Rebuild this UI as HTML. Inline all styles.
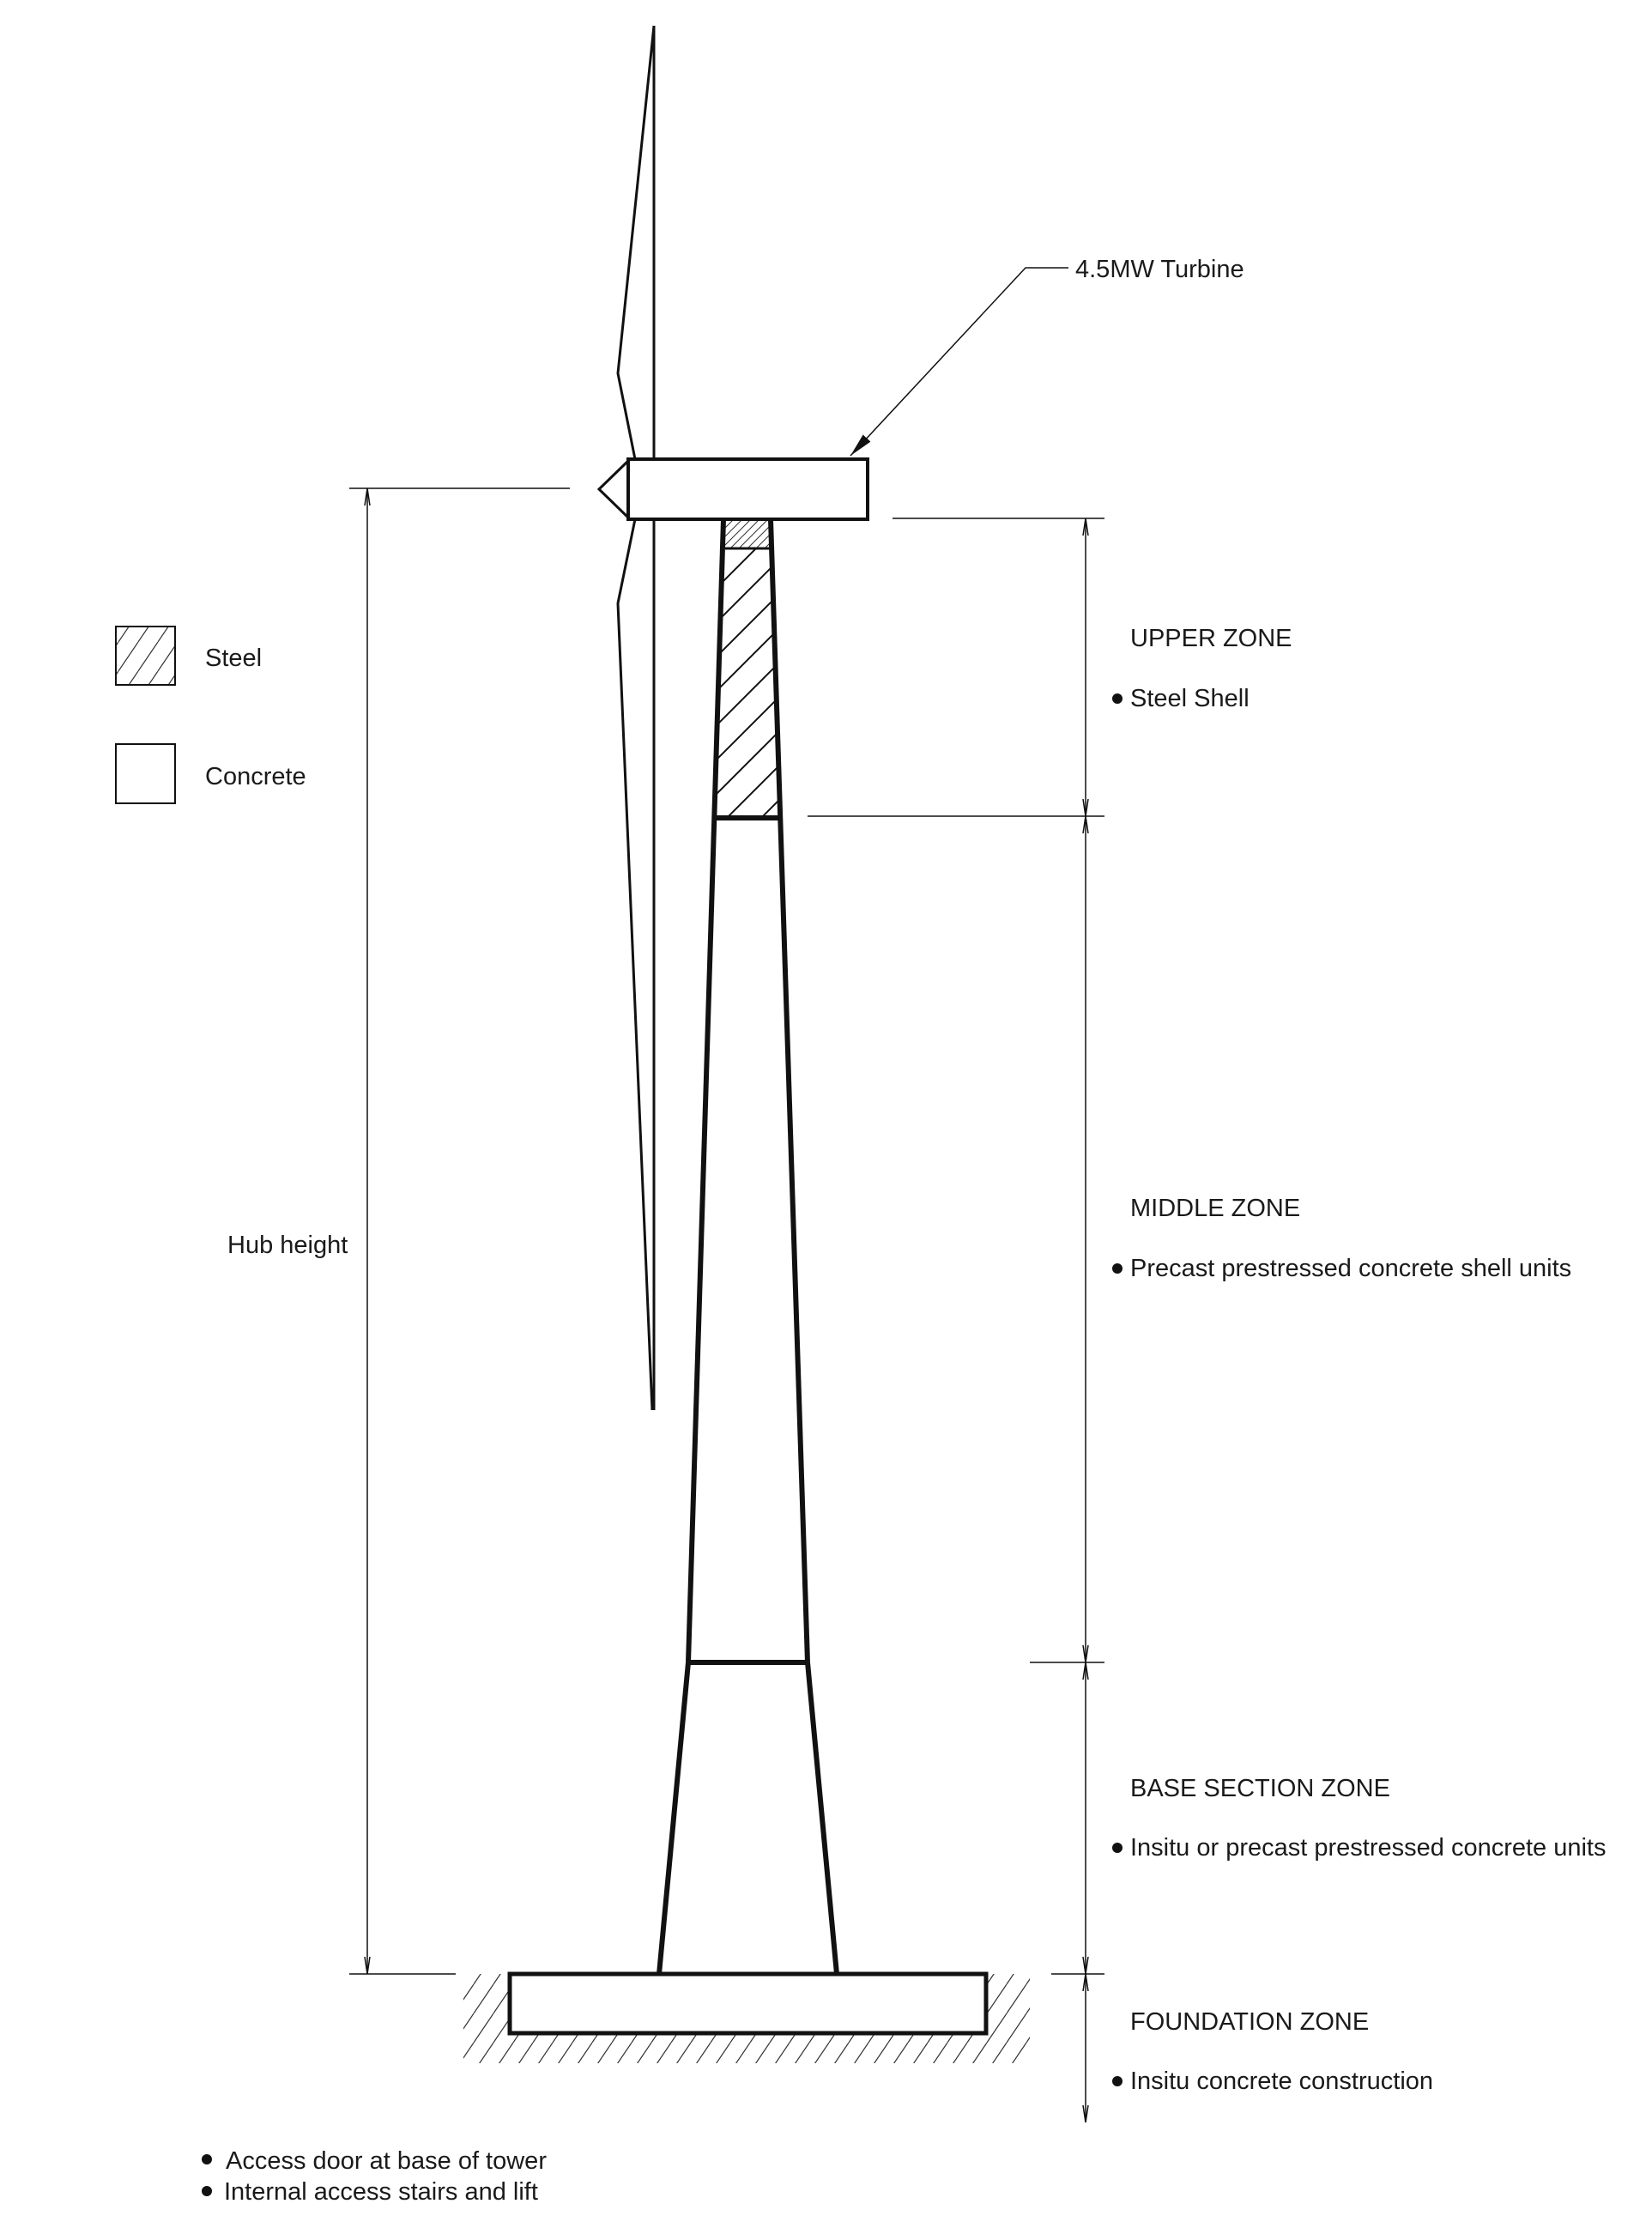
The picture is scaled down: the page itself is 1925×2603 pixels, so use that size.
<!DOCTYPE html>
<html><head><style>html,body{margin:0;padding:0;background:#fff}svg{display:block}text{font-family:"Liberation Sans",Arial,sans-serif;font-size:29px;fill:#1a1a1a}</style></head>
<body>
<svg width="1925" height="2603" viewBox="0 0 1925 2603" xmlns="http://www.w3.org/2000/svg">
<defs>
<pattern id="h1" patternUnits="userSpaceOnUse" width="40" height="40">
<path d="M-10,50 L50,-10 M-30,30 L30,-30 M10,70 L70,10" stroke="#111" stroke-width="2"/>
</pattern>
<pattern id="h2" patternUnits="userSpaceOnUse" width="10" height="10">
<path d="M-2,12 L12,-2 M-7,7 L7,-7 M3,17 L17,3" stroke="#333" stroke-width="1"/>
</pattern>
<pattern id="h3" patternUnits="userSpaceOnUse" width="23" height="34">
<path d="M0,34 L23,0 M-23,34 L0,0 M23,34 L46,0" stroke="#333" stroke-width="1.2"/>
</pattern>
<marker id="ar" viewBox="0 0 20 10" refX="20" refY="5" markerWidth="20" markerHeight="10" markerUnits="userSpaceOnUse" orient="auto-start-reverse">
<path d="M0,2 L20,5 L0,8" fill="none" stroke="#111" stroke-width="1.5"/>
</marker>
<marker id="af" viewBox="0 0 28 12" refX="28" refY="6" markerWidth="28" markerHeight="12" markerUnits="userSpaceOnUse" orient="auto">
<path d="M0,0 L28,6 L0,12 Z" fill="#111"/>
</marker>
</defs>

<!-- ground hatch -->
<rect x="540" y="2300" width="660" height="104" fill="url(#h3)"/>
<rect x="594" y="2300" width="555" height="69" fill="#fff"/>

<!-- blade -->
<g fill="none" stroke="#111" stroke-width="3">
<line x1="762" y1="30" x2="762" y2="1643"/>
<polyline points="762,30 720,435 740,535"/>
<polyline points="740,605 720,703 760,1643"/>
</g>

<!-- tower steel -->
<polygon points="843,639 898,639 908,953 833,953" fill="url(#h1)"/>
<rect x="845" y="607" width="52" height="32" fill="url(#h2)"/>
<g fill="none" stroke="#111" stroke-width="6" stroke-linejoin="round">
<line x1="843" y1="605" x2="802" y2="1937"/>
<line x1="898" y1="605" x2="941" y2="1937"/>
<line x1="802" y1="1937" x2="768" y2="2300"/>
<line x1="941" y1="1937" x2="975" y2="2300"/>
<line x1="833" y1="953" x2="908" y2="953"/>
<line x1="802" y1="1937" x2="941" y2="1937"/>
</g>
<line x1="845" y1="639" x2="897" y2="639" stroke="#111" stroke-width="3"/>

<!-- nacelle -->
<rect x="732" y="535" width="279" height="70" fill="#fff" stroke="#111" stroke-width="4"/>
<polyline points="732,537 698,570 732,603" fill="none" stroke="#111" stroke-width="3"/>

<!-- foundation -->
<rect x="594" y="2300" width="555" height="69" fill="#fff" stroke="#111" stroke-width="5"/>

<!-- turbine leader -->
<polyline points="1245,312 1195,312 991,531" fill="none" stroke="#111" stroke-width="1.5" marker-end="url(#af)"/>
<text x="1253" y="323">4.5MW Turbine</text>

<!-- dimensions -->
<g stroke="#111" stroke-width="1.5">
<line x1="407" y1="569" x2="664" y2="569"/>
<line x1="407" y1="2300" x2="531" y2="2300"/>
<line x1="428" y1="569" x2="428" y2="2300" marker-start="url(#ar)" marker-end="url(#ar)"/>
<line x1="1040" y1="604" x2="1287" y2="604"/>
<line x1="941" y1="951" x2="1287" y2="951"/>
<line x1="1200" y1="1937" x2="1287" y2="1937"/>
<line x1="1225" y1="2300" x2="1287" y2="2300"/>
<line x1="1265" y1="604" x2="1265" y2="951" marker-start="url(#ar)" marker-end="url(#ar)"/>
<line x1="1265" y1="951" x2="1265" y2="1937" marker-start="url(#ar)" marker-end="url(#ar)"/>
<line x1="1265" y1="1937" x2="1265" y2="2300" marker-start="url(#ar)" marker-end="url(#ar)"/>
<line x1="1265" y1="2300" x2="1265" y2="2473" marker-start="url(#ar)" marker-end="url(#ar)"/>
</g>
<text x="265" y="1460">Hub height</text>

<!-- legend -->
<rect x="135" y="730" width="69" height="68" fill="url(#h3)" stroke="#111" stroke-width="2"/>
<rect x="135" y="867" width="69" height="69" fill="#fff" stroke="#111" stroke-width="2"/>
<text x="239" y="776">Steel</text>
<text x="239" y="914">Concrete</text>

<!-- zone labels -->
<text x="1317" y="753">UPPER ZONE</text>
<circle cx="1302" cy="814" r="6" fill="#111"/>
<text x="1317" y="823">Steel Shell</text>
<text x="1317" y="1417">MIDDLE ZONE</text>
<circle cx="1302" cy="1478" r="6" fill="#111"/>
<text x="1317" y="1487">Precast prestressed concrete shell units</text>
<text x="1317" y="2093">BASE SECTION ZONE</text>
<circle cx="1302" cy="2153" r="6" fill="#111"/>
<text x="1317" y="2162">Insitu or precast prestressed concrete units</text>
<text x="1317" y="2365">FOUNDATION ZONE</text>
<circle cx="1302" cy="2425" r="6" fill="#111"/>
<text x="1317" y="2434">Insitu concrete construction</text>

<!-- notes -->
<circle cx="241" cy="2516" r="6" fill="#111"/>
<text x="263" y="2527">Access door at base of tower</text>
<circle cx="241" cy="2553" r="6" fill="#111"/>
<text x="261" y="2563">Internal access stairs and lift</text>
</svg>
</body></html>
